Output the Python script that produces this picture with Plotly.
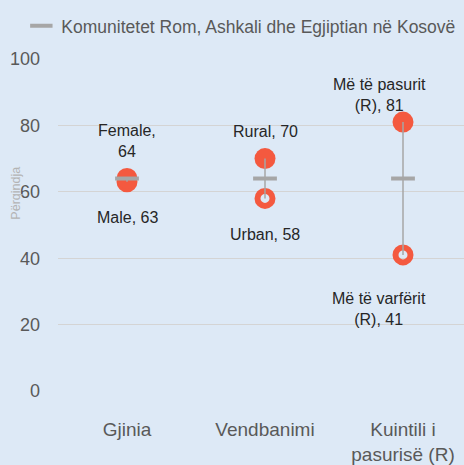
import plotly.graph_objects as go

# ---- data ----
categories = ["Gjinia", "Vendbanimi", "Kuintili i<br>pasurisë (R)"]
high_names = ["Female", "Rural", "Më të pasurit<br>(R)"]
high_values = [64, 70, 81]
high_seps = ["<br>", " ", " "]
low_names = ["Male", "Urban", "Më të varfërit<br>(R)"]
low_values = [63, 58, 41]
low_seps = [" ", " ", " "]
avg_values = [64, 64, 64]
legend_name = "Komunitetet Rom, Ashkali dhe Egjiptian në Kosovë"
y_title = "Përqindja"
y_ticks = [0, 20, 40, 60, 80, 100]

# ---- styles ----
BG = "#DDE9F6"
RED = "#F4593F"
GRAY = "#A6A6A6"
FONT = "Liberation Sans"
LABEL_SIZE = 16

xs = list(range(len(categories)))

fig = go.Figure()

# low (open ring) markers
fig.add_trace(go.Scatter(
    x=xs, y=low_values, mode="markers", showlegend=False, hoverinfo="skip",
    marker=dict(symbol="circle-open", size=15, color=RED, line=dict(width=6, color=RED)),
))
# high (filled) markers
fig.add_trace(go.Scatter(
    x=xs, y=high_values, mode="markers", showlegend=False, hoverinfo="skip",
    marker=dict(symbol="circle", size=21, color=RED, line=dict(width=0)),
))
# range lines
lx, ly = [], []
for x, lo, hi in zip(xs, low_values, high_values):
    lx += [x, x, None]
    ly += [lo, hi, None]
fig.add_trace(go.Scatter(
    x=lx, y=ly, mode="lines", showlegend=False, hoverinfo="skip",
    line=dict(color=GRAY, width=1.5),
))
# average dashes
fig.add_trace(go.Scatter(
    x=xs, y=avg_values, mode="markers", name=legend_name,
    marker=dict(symbol="line-ew", size=17, color=GRAY, line=dict(width=4, color=GRAY)),
))

# data labels
high_shift = [17, 17, 6]
low_shift = [-25, -26, -33]
x_shift = [0, 0, -24]
for x, n, s, v, ys, xsft in zip(xs, high_names, high_seps, high_values, high_shift, x_shift):
    fig.add_annotation(x=x, y=v, text=f"{n},{s}{v}", showarrow=False, yanchor="bottom",
                       yshift=ys, xshift=xsft, font=dict(family=FONT, size=LABEL_SIZE, color="#262626"))
for x, n, s, v, ys, xsft in zip(xs, low_names, low_seps, low_values, low_shift, x_shift):
    fig.add_annotation(x=x, y=v, text=f"{n},{s}{v}", showarrow=False, yanchor="top",
                       yshift=ys, xshift=xsft, font=dict(family=FONT, size=LABEL_SIZE, color="#262626"))

# y-axis title
fig.add_annotation(x=-0.103, y=0.595, xref="paper", yref="paper", text=y_title, textangle=-90,
                   xanchor="center", yanchor="middle",
                   showarrow=False, font=dict(family=FONT, size=12.5, color="#B4B4B4"))

fig.update_layout(
    width=464, height=465,
    paper_bgcolor=BG, plot_bgcolor=BG,
    margin=dict(l=58, r=0, t=59, b=74),
    font=dict(family=FONT, color="#595959"),
    showlegend=True,
    legend=dict(orientation="h", xref="container", yref="container", x=0.046, y=0.983,
                xanchor="left", yanchor="top", itemwidth=30,
                font=dict(family=FONT, size=17.5, color="#595959"), bgcolor="rgba(0,0,0,0)"),
    xaxis=dict(range=[-0.5, 2.442], tickvals=xs, ticktext=categories, showgrid=False,
               zeroline=False, showline=False, ticks="", ticklabelstandoff=25,
               tickfont=dict(family=FONT, size=19, color="#595959"), fixedrange=True),
    yaxis=dict(range=[0, 100], tickvals=y_ticks, showgrid=True, gridcolor="#D4D4D4",
               gridwidth=1, zeroline=False, showline=False, ticks="", ticklabelstandoff=17,
               tickfont=dict(family=FONT, size=18, color="#595959"), fixedrange=True),
)

fig.write_html("out.html", config={"displayModeBar": False},
               post_script="document.body.style.margin='0';document.body.style.overflow='hidden';")
